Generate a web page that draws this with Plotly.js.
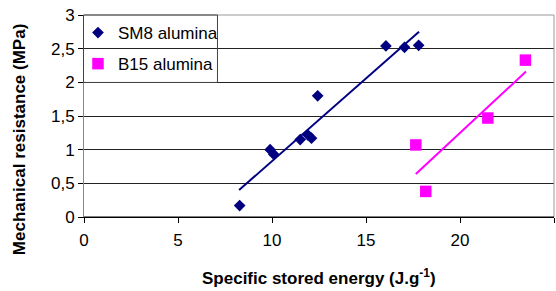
<!DOCTYPE html>
<html>
<head>
<meta charset="utf-8">
<script src="https://cdn.plot.ly/plotly-3.0.1.min.js"></script>
<style>html,body{margin:0;padding:0;background:#fff;}#chart{width:556px;height:291px;}</style>
</head>
<body>
<div id="chart"></div>
<script>
// Data
const sm8Name = "SM8 alumina";
const sm8X = [8.28, 9.9, 10.1, 11.5, 11.9, 12.1, 12.43, 16.06, 17.05, 17.8];
const sm8Y = [0.17, 1.00, 0.93, 1.15, 1.22, 1.17, 1.80, 2.54, 2.52, 2.55];
const sm8TrendX = [8.25, 17.82];
const sm8TrendY = [0.40, 2.75];

const b15Name = "B15 alumina";
const b15X = [17.65, 18.18, 21.48, 23.48];
const b15Y = [1.07, 0.38, 1.47, 2.33];
const b15TrendX = [17.65, 23.51];
const b15TrendY = [0.64, 2.16];

const xTitle = "Specific stored energy (J.g<sup>-1</sup>)";
const yTitle = "Mechanical resistance (MPa)";

const navy = "#000080", magenta = "#ff00ff";
const fontFam = "Arial, 'Liberation Sans', sans-serif";

const traces = [
  {x: sm8X, y: sm8Y, type: "scatter", mode: "markers", name: sm8Name,
   marker: {symbol: "diamond", size: 9, color: navy}, legendgroup: "a"},
  {x: b15X, y: b15Y, type: "scatter", mode: "markers", name: b15Name,
   marker: {symbol: "square", size: 11.5, color: magenta}, legendgroup: "b"},
  {x: sm8TrendX, y: sm8TrendY, type: "scatter", mode: "lines", showlegend: false,
   line: {color: navy, width: 2}, hoverinfo: "skip"},
  {x: b15TrendX, y: b15TrendY, type: "scatter", mode: "lines", showlegend: false,
   line: {color: magenta, width: 2}, hoverinfo: "skip"}
];

const layout = {
  width: 556, height: 291,
  margin: {l: 84, r: 2, t: 15, b: 74, pad: 0},
  paper_bgcolor: "#fff", plot_bgcolor: "#fff",
  separators: ", ",
  font: {family: fontFam, size: 17, color: "#000"},
  showlegend: true,
  legend: {x: -0.0128, y: 1, xanchor: "left", yanchor: "top", xref: "paper", yref: "paper",
           bgcolor: "rgba(0,0,0,0)", borderwidth: 0,
           font: {family: fontFam, size: 17, color: "#000"},
           traceorder: "grouped", tracegroupgap: 6, itemwidth: 30},
  xaxis: {range: [0, 25], dtick: 5, tick0: 0, showgrid: false, zeroline: false,
          showline: true, linecolor: "#000", linewidth: 1,
          ticks: "outside", ticklen: 5, tickcolor: "#000", ticklabelstandoff: 3,
          tickfont: {family: fontFam, size: 17, color: "#000"}, fixedrange: true},
  yaxis: {range: [0, 3], dtick: 0.5, tick0: 0, showgrid: true, gridcolor: "#222", gridwidth: 1,
          zeroline: false, showline: true, linecolor: "#888", linewidth: 1,
          ticks: "outside", ticklen: 5, tickcolor: "#000",
          tickfont: {family: fontFam, size: 17, color: "#000"}, fixedrange: true},
  shapes: [
    {type: "line", xref: "paper", yref: "paper", x0: 0, x1: 1, y0: 1, y1: 1, line: {color: "#999", width: 1}},
    {type: "line", xref: "paper", yref: "paper", x0: 1, x1: 1, y0: 0, y1: 1, line: {color: "#999", width: 1}},
    {type: "line", xref: "paper", yref: "paper", x0: 0, x1: 1, y0: 0, y1: 0, line: {color: "#000", width: 1}},
    {type: "rect", xref: "paper", yref: "paper", x0: -0.001, x1: 0.284, y0: 0.666, y1: 1.0,
     line: {color: "#444", width: 1}, fillcolor: "rgba(255,255,255,0)", layer: "above"}
  ],
  annotations: [
    {text: "<b>" + xTitle + "</b>", xref: "paper", yref: "paper", x: 0.5, y: -0.297,
     xanchor: "center", yanchor: "middle", showarrow: false,
     font: {family: fontFam, size: 17, color: "#000"}},
    {text: "<b>" + yTitle + "</b>", xref: "paper", yref: "paper", x: -0.138, y: 0.381,
     xanchor: "center", yanchor: "middle", showarrow: false, textangle: -90,
     font: {family: fontFam, size: 17, color: "#000"}}
  ]
};

Plotly.newPlot("chart", traces, layout, {displayModeBar: false, staticPlot: true});
</script>
</body>
</html>
